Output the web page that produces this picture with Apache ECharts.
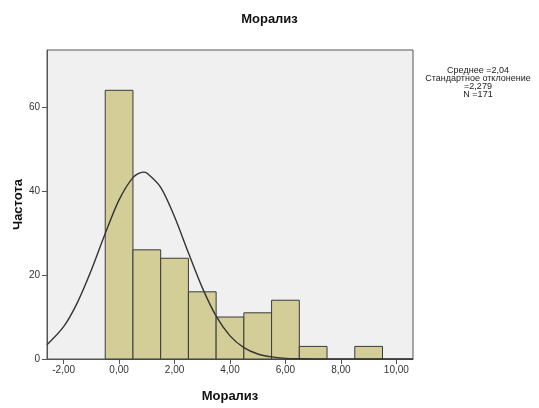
<!DOCTYPE html>
<html>
<head>
<meta charset="utf-8">
<script src="https://cdn.jsdelivr.net/npm/echarts@6/dist/echarts.min.js"></script>
<style>
  html, body { margin: 0; padding: 0; background: #fff; }
  #chart { width: 539px; height: 408px; }
</style>
</head>
<body>
<div id="chart"></div>
<script>
// histogram bins (centre of each bin) and counts
const binCenters = [0, 1, 2, 3, 4, 5, 6, 7, 8, 9];
const counts = [64, 26, 24, 16, 10, 11, 14, 3, 0, 3];

// normal curve
const curveX = [-2.6, -2, -1.5, -1, -0.5, 0, 0.5, 0.87, 1, 1.5, 2, 2.5, 3, 3.5, 4, 4.5, 5, 5.5, 6, 6.5, 7, 8, 9, 10, 10.6];
const curveY = [3.4, 7.7, 13.5, 21.2, 29.9, 37.9, 43.2, 44.5, 44.3, 40.9, 33.9, 25.3, 17.0, 10.2, 5.5, 2.7, 1.2, 0.5, 0.16, 0.05, 0.01, 0, 0, 0, 0];

const xTicks = [-2, 0, 2, 4, 6, 8, 10];
const yTicks = [0, 20, 40, 60];

const stats = ['Среднее =2,04', 'Стандартное отклонение', '=2,279', 'N =171'];

const chart = echarts.init(document.getElementById('chart'));

const font = 'Liberation Sans, Arial, sans-serif';

const option = {
  animation: false,
  textStyle: { fontFamily: font },
  title: {
    text: 'Морализ',
    left: 'center',
    top: 8,
    textStyle: { fontSize: 13, fontWeight: 'bold', color: '#111', fontFamily: font }
  },
  graphic: [{
    type: 'text',
    x: 478,
    y: 67,
    style: {
      text: stats.join('\n'),
      textAlign: 'center',
      fontSize: 9,
      lineHeight: 8,
      fill: '#222',
      fontFamily: font
    }
  }],
  grid: {
    left: 47,
    top: 50,
    right: 126,
    bottom: 49,
    containLabel: false,
    outerBoundsMode: 'none',
    show: true,
    backgroundColor: '#f0f0f0',
    borderColor: '#555',
    borderWidth: 1
  },
  xAxis: {
    type: 'value',
    min: -2.6,
    max: 10.6,
    name: 'Морализ',
    nameLocation: 'middle',
    nameGap: 31,
    nameMoveOverlap: false,
    nameTextStyle: { fontSize: 13, fontWeight: 'bold', color: '#111' },
    splitLine: { show: false },
    axisLine: { show: true, onZero: false, lineStyle: { color: '#555' } },
    axisTick: { show: true, customValues: xTicks, length: 5, lineStyle: { color: '#555' } },
    axisLabel: {
      customValues: xTicks,
      color: '#333',
      fontSize: 10,
      margin: 6,
      formatter: v => v.toFixed(2).replace('.', ',')
    }
  },
  yAxis: {
    type: 'value',
    min: 0,
    max: 73.6,
    name: 'Частота',
    nameLocation: 'middle',
    nameGap: 22,
    nameMoveOverlap: false,
    nameRotate: 90,
    nameTextStyle: { fontSize: 13, fontWeight: 'bold', color: '#111' },
    splitLine: { show: false },
    axisLine: { show: true, onZero: false, lineStyle: { color: '#555' } },
    axisTick: { show: true, customValues: yTicks, length: 5, lineStyle: { color: '#555' } },
    axisLabel: { customValues: yTicks, color: '#333', fontSize: 10, margin: 7 }
  },
  series: [
    {
      type: 'custom',
      data: binCenters.map((c, i) => [c, counts[i]]),
      renderItem: function (params, api) {
        const c = api.value(0);
        const v = api.value(1);
        if (!v) return null;
        const p0 = api.coord([c - 0.5, v]);
        const p1 = api.coord([c + 0.5, 0]);
        return {
          type: 'rect',
          shape: { x: p0[0], y: p0[1], width: p1[0] - p0[0], height: p1[1] - p0[1] },
          style: { fill: '#d3ce97', stroke: '#3a3a3a', lineWidth: 1 }
        };
      },
      z: 2
    },
    {
      type: 'line',
      data: curveX.map((x, i) => [x, curveY[i]]),
      smooth: 0.3,
      symbol: 'none',
      lineStyle: { color: '#333', width: 1.4 },
      z: 3
    }
  ]
};

chart.setOption(option);
</script>
</body>
</html>
